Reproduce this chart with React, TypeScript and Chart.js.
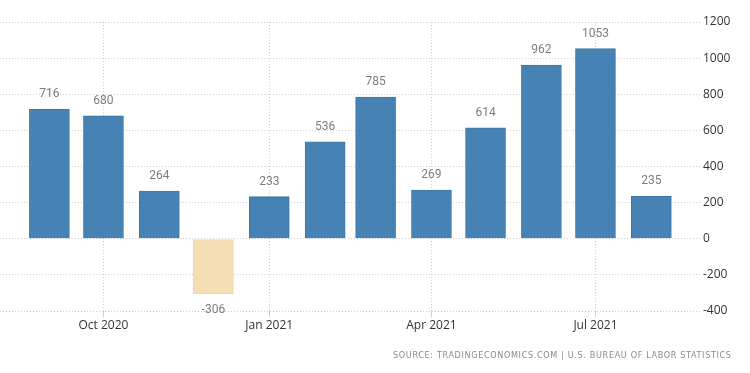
import React, { useEffect, useRef } from "react";
import { Chart, registerables } from "chart.js";

Chart.register(...registerables);

const months = ["2020-09", "2020-10", "2020-11", "2020-12", "2021-01", "2021-02", "2021-03", "2021-04", "2021-05", "2021-06", "2021-07", "2021-08"];
const values = [716, 680, 264, -306, 233, 536, 785, 269, 614, 962, 1053, 235];
const tickMonths = ["2020-10", "2021-01", "2021-04", "2021-07"];
const tickLabels = ["Oct 2020", "Jan 2021", "Apr 2021", "Jul 2021"];
const sourceText = "SOURCE: TRADINGECONOMICS.COM | U.S. BUREAU OF LABOR STATISTICS";

const BASE = Date.UTC(2020, 8, 1);
function dayOf(m: string): number {
  const [y, mo] = m.split("-").map(Number);
  return (Date.UTC(y, mo - 1, 1) - BASE) / 86400000;
}

const POS = "#4682B4";
const NEG = "#F5DEB3";
const POS_EDGE = "#3f76a3";
const NEG_EDGE = "#efd6a8";

const labelPlugin = {
  id: "barLabels",
  afterDatasetsDraw(chart: any) {
    const ctx = chart.ctx;
    const meta = chart.getDatasetMeta(0);
    ctx.save();
    ctx.font = "12px Roboto";
    ctx.fillStyle = "#7d7d7d";
    ctx.textAlign = "center";
    meta.data.forEach((el: any, i: number) => {
      const v = values[i];
      if (v >= 0) {
        ctx.textBaseline = "bottom";
        ctx.fillText(String(v), el.x, el.y - 9);
      } else {
        ctx.textBaseline = "top";
        ctx.fillText(String(v), el.x, el.y + 10);
      }
    });
    ctx.restore();
  },
  afterDraw(chart: any) {
    const ctx = chart.ctx;
    ctx.save();
    ctx.font = "9px 'DejaVu Sans Condensed', 'Liberation Sans'";
    ctx.fillStyle = "#8a8a8a";
    ctx.textBaseline = "middle";
    ctx.textAlign = "left";
    const target = 338;
    (ctx as any).letterSpacing = "0px";
    const w = ctx.measureText(sourceText).width;
    const ls = (target - w) / (sourceText.length - 1);
    (ctx as any).letterSpacing = ls + "px";
    ctx.fillText(sourceText, 731 - target, 356);
    ctx.restore();
  },
};

export default function App() {
  const ref = useRef<HTMLCanvasElement>(null);
  useEffect(() => {
    if (!ref.current) return;
    const chart = new Chart(ref.current, {
      type: "bar",
      data: {
        datasets: [
          {
            data: months.map((m, i) => ({ x: dayOf(m), y: values[i] })),
            backgroundColor: values.map((v) => (v < 0 ? NEG : POS)),
            borderColor: values.map((v) => (v < 0 ? NEG_EDGE : POS_EDGE)),
            barThickness: 40,
            borderWidth: 1,
          },
        ],
      },
      options: {
        animation: false,
        responsive: true,
        maintainAspectRatio: false,
        layout: { padding: { top: 22, left: 0, right: 0, bottom: 0 } },
        plugins: {
          legend: { display: false },
          tooltip: { enabled: false },
        },
        scales: {
          x: {
            type: "linear",
            offset: false,
            min: -27.4,
            max: 361,
            afterBuildTicks: (scale: any) => {
              scale.ticks = tickMonths.map((m) => ({ value: dayOf(m) }));
            },
            afterFit: (scale: any) => {
              scale.height = 62;
            },
            ticks: {
              autoSkip: false,
              maxRotation: 0,
              padding: 1,
              color: "#333333",
              font: { family: "'Open Sans'", size: 12 },
              callback: (v: any) => {
                const idx = tickMonths.findIndex((m) => dayOf(m) === v);
                return idx >= 0 ? tickLabels[idx] : "";
              },
            },
            grid: { offset: false, color: "#cfcfcf", drawTicks: true, tickLength: 6 },
            border: { display: false, dash: [1, 2] },
          },
          y: {
            position: "right",
            min: -400,
            max: 1200,
            afterFit: (scale: any) => {
              scale.width = 50;
            },
            ticks: {
              stepSize: 200,
              padding: 3,
              color: "#333333",
              font: { family: "'Open Sans'", size: 12 },
              callback: (v: any) => String(v),
            },
            grid: { color: "#cfcfcf", drawTicks: false },
            border: { display: false, dash: [1, 2] },
          },
        },
      },
      plugins: [labelPlugin],
    } as any);
    return () => chart.destroy();
  }, []);
  return (
    <div style={{ position: "fixed", left: 0, top: 0, width: 750, height: 373, background: "#fff" }}>
      <canvas ref={ref} />
    </div>
  );
}
